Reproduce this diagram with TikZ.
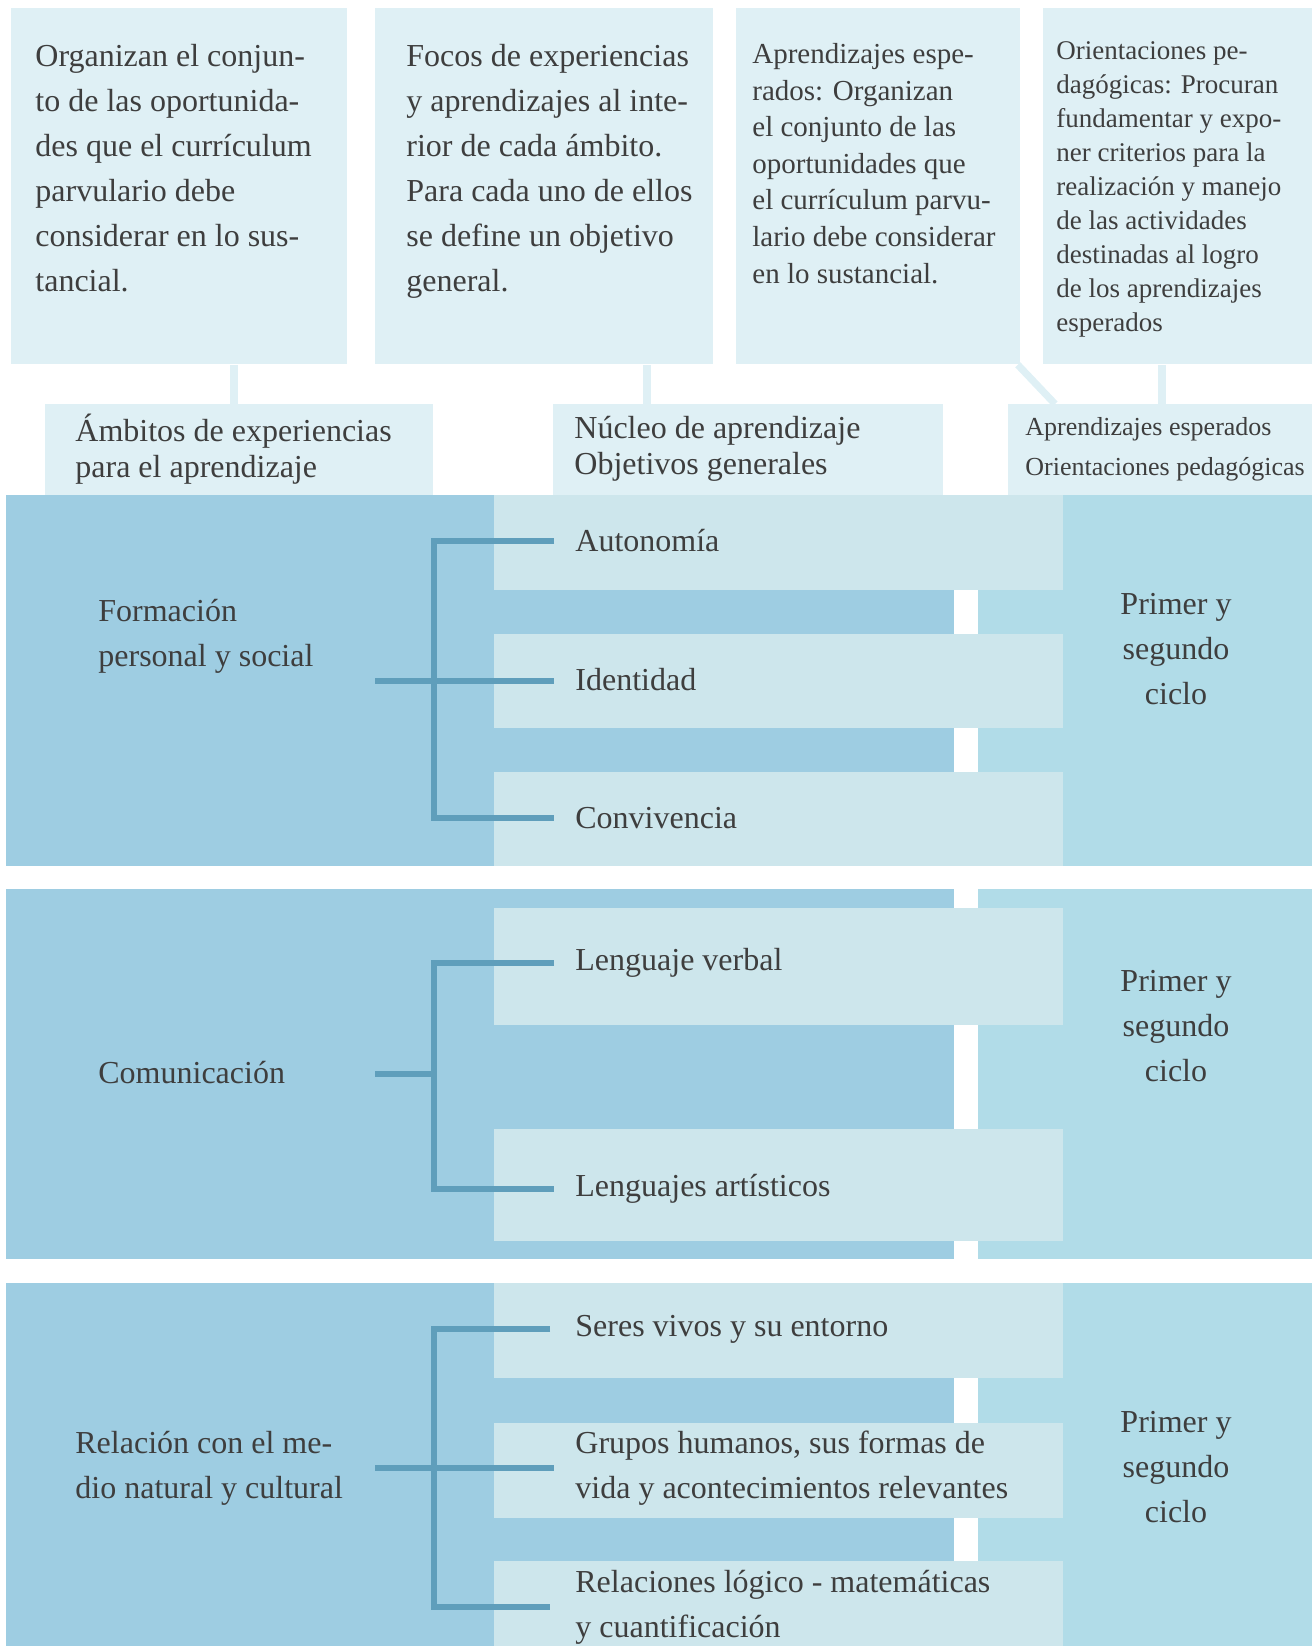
\documentclass[tikz,border=0pt]{standalone}
\usepackage{fontspec}
\setmainfont{Liberation Serif}
\definecolor{pale}{HTML}{DFF0F5}
\definecolor{deep}{HTML}{9ECDE2}
\definecolor{itembg}{HTML}{CDE6EC}
\definecolor{side}{HTML}{B1DCE8}
\definecolor{brack}{HTML}{5F9EBB}
\definecolor{ink}{HTML}{3E3E3E}

\begin{document}
\begin{tikzpicture}[x=0.5pt,y=-0.5pt,
  txt/.style={inner sep=0pt,align=left,text=ink,font=\fontsize{16}{22.5}\selectfont},
  small/.style={txt,font=\fontsize{14.5}{18.3}\selectfont},
  smaller/.style={txt,font=\fontsize{13.5}{17}\selectfont},
  ciclo/.style={txt,align=center},
  box/.style={fill=pale,inner sep=0pt,anchor=north west},
  link/.style={pale,line width=3.6pt},
  brace/.style={brack,line width=3.2pt}]
\useasboundingbox (0,0) rectangle (1312,1646);

% top boxes
\node[box,minimum width=168.25pt,minimum height=178pt] (boxA) at (10.5,8) {};
\node[box,minimum width=169pt,minimum height=178pt] (boxB) at (375,8) {};
\node[box,minimum width=142pt,minimum height=178pt] (boxC) at (736,8) {};
\node[box,minimum width=134.5pt,minimum height=178pt] (boxD) at (1043,8) {};
\node[txt,anchor=north west] (tA) at (35,44) {Organizan el conjun-\\to de las oportunida-\\des que el currículum\\parvulario debe\\considerar en lo sus-\\tancial.};
\node[txt,anchor=north west] (tB) at (406,44) {Focos de experiencias\\y aprendizajes al inte-\\rior de cada ámbito.\\Para cada uno de ellos\\se define un objetivo\\general.};
\node[small,anchor=north west] (tC) at (752,43) {Aprendizajes espe-\\rados: Organizan\\el conjunto de las\\oportunidades que\\el currículum parvu-\\lario debe considerar\\en lo sustancial.};
\node[smaller,anchor=north west] (tD) at (1056,41) {Orientaciones pe-\\dagógicas: Procuran\\fundamentar y expo-\\ner criterios para la\\realización y manejo\\de las actividades\\destinadas al logro\\de los aprendizajes\\esperados};

% headers
\node[box,minimum width=194pt,minimum height=45.5pt] (hdA) at (45,404) {};
\node[box,minimum width=195pt,minimum height=45.5pt] (hdB) at (553,404) {};
\node[box,minimum width=152pt,minimum height=45.5pt] (hdC) at (1008,404) {};
\node[txt,anchor=west,font=\fontsize{16}{18}\selectfont] (hA) at (75,449) {Ámbitos de experiencias\\para el aprendizaje};
\node[txt,anchor=west,font=\fontsize{16}{18}\selectfont] (hB) at (574,449) {Núcleo de aprendizaje\\Objetivos generales};
\node[txt,anchor=west,font=\fontsize{13}{20}\selectfont] (hC) at (1025,449) {Aprendizajes esperados\\Orientaciones pedagógicas};

\coordinate (kA) at (234,404);
\coordinate (kB) at (647,404);
\coordinate (kC) at (1055,404);
\coordinate (kD) at (1162,404);
\draw[link] (kA |- boxA.south) -- (kA);
\draw[link] (kB |- boxB.south) -- (kB);
\draw[link] ([xshift=-1.5pt]boxC.south east) -- (kC);
\draw[link] (kD |- boxD.south) -- (kD);

% first band
\begin{scope}[shift={(0,495)}]
\fill[deep] (6,0) rectangle (954,371);
\fill[side] (978,0) rectangle (1312,371);
\fill[itembg] (494,0) rectangle (1063,95);
\fill[itembg] (494,139) rectangle (1063,233);
\fill[itembg] (494,277) rectangle (1063,371);
\node[txt,anchor=west] (fps) at (98,141) {Formación\\personal y social};
\node[txt,anchor=west] (aut) at (575,46) {Autonomía};
\node[txt,anchor=west] (ide) at (575,185) {Identidad};
\node[txt,anchor=west] (con) at (575,323) {Convivencia};
\node[ciclo] (cy1) at (1176,154) {Primer y\\segundo\\ciclo};
\coordinate (st1) at (375,186);
\coordinate (sp1) at (434,186);
\end{scope}
\draw[brace] (st1) -- ([xshift=-10.5pt]st1 -| ide.west);
\draw[brace] ([xshift=-10.5pt]aut.west) -| (sp1) |- ([xshift=-10.5pt]con.west);

% second band
\begin{scope}[shift={(0,889)}]
\fill[deep] (6,0) rectangle (954,370);
\fill[side] (978,0) rectangle (1312,370);
\fill[itembg] (494,19) rectangle (1063,136);
\fill[itembg] (494,240) rectangle (1063,352);
\node[txt,anchor=west] (com) at (98,184) {Comunicación};
\node[txt,anchor=west] (lv) at (575,74) {Lenguaje verbal};
\node[txt,anchor=west] (la) at (575,300) {Lenguajes artísticos};
\node[ciclo] (cy2) at (1176,137) {Primer y\\segundo\\ciclo};
\coordinate (st2) at (375,185);
\coordinate (sp2) at (434,185);
\end{scope}
\draw[brace] (st2) -- (sp2);
\draw[brace] ([xshift=-10.5pt]lv.west) -| (sp2) |- ([xshift=-10.5pt]la.west);

% third band
\begin{scope}[shift={(0,1283)}]
\fill[deep] (6,0) rectangle (954,363);
\fill[side] (978,0) rectangle (1312,363);
\fill[itembg] (494,0) rectangle (1063,95);
\fill[itembg] (494,140) rectangle (1063,235);
\fill[itembg] (494,278) rectangle (1063,363);
\node[txt,anchor=west] (rel) at (75,185) {Relación con el me-\\dio natural y cultural};
\node[txt,anchor=west] (sv) at (575,46) {Seres vivos y su entorno};
\node[txt,anchor=west] (gh) at (575,185) {Grupos humanos, sus formas de\\vida y acontecimientos relevantes};
\node[txt,anchor=west] (rl) at (575,324) {Relaciones lógico - matemáticas\\y cuantificación};
\node[ciclo] (cy3) at (1176,184) {Primer y\\segundo\\ciclo};
\coordinate (st3) at (375,185);
\coordinate (sp3) at (434,185);
\end{scope}
\draw[brace] (st3) -- ([xshift=-10.5pt]st3 -| gh.west);
\draw[brace] ([xshift=-12.5pt]sv.west) -| (sp3) |- ([xshift=-12.5pt]rl.west);
\end{tikzpicture}
\end{document}
